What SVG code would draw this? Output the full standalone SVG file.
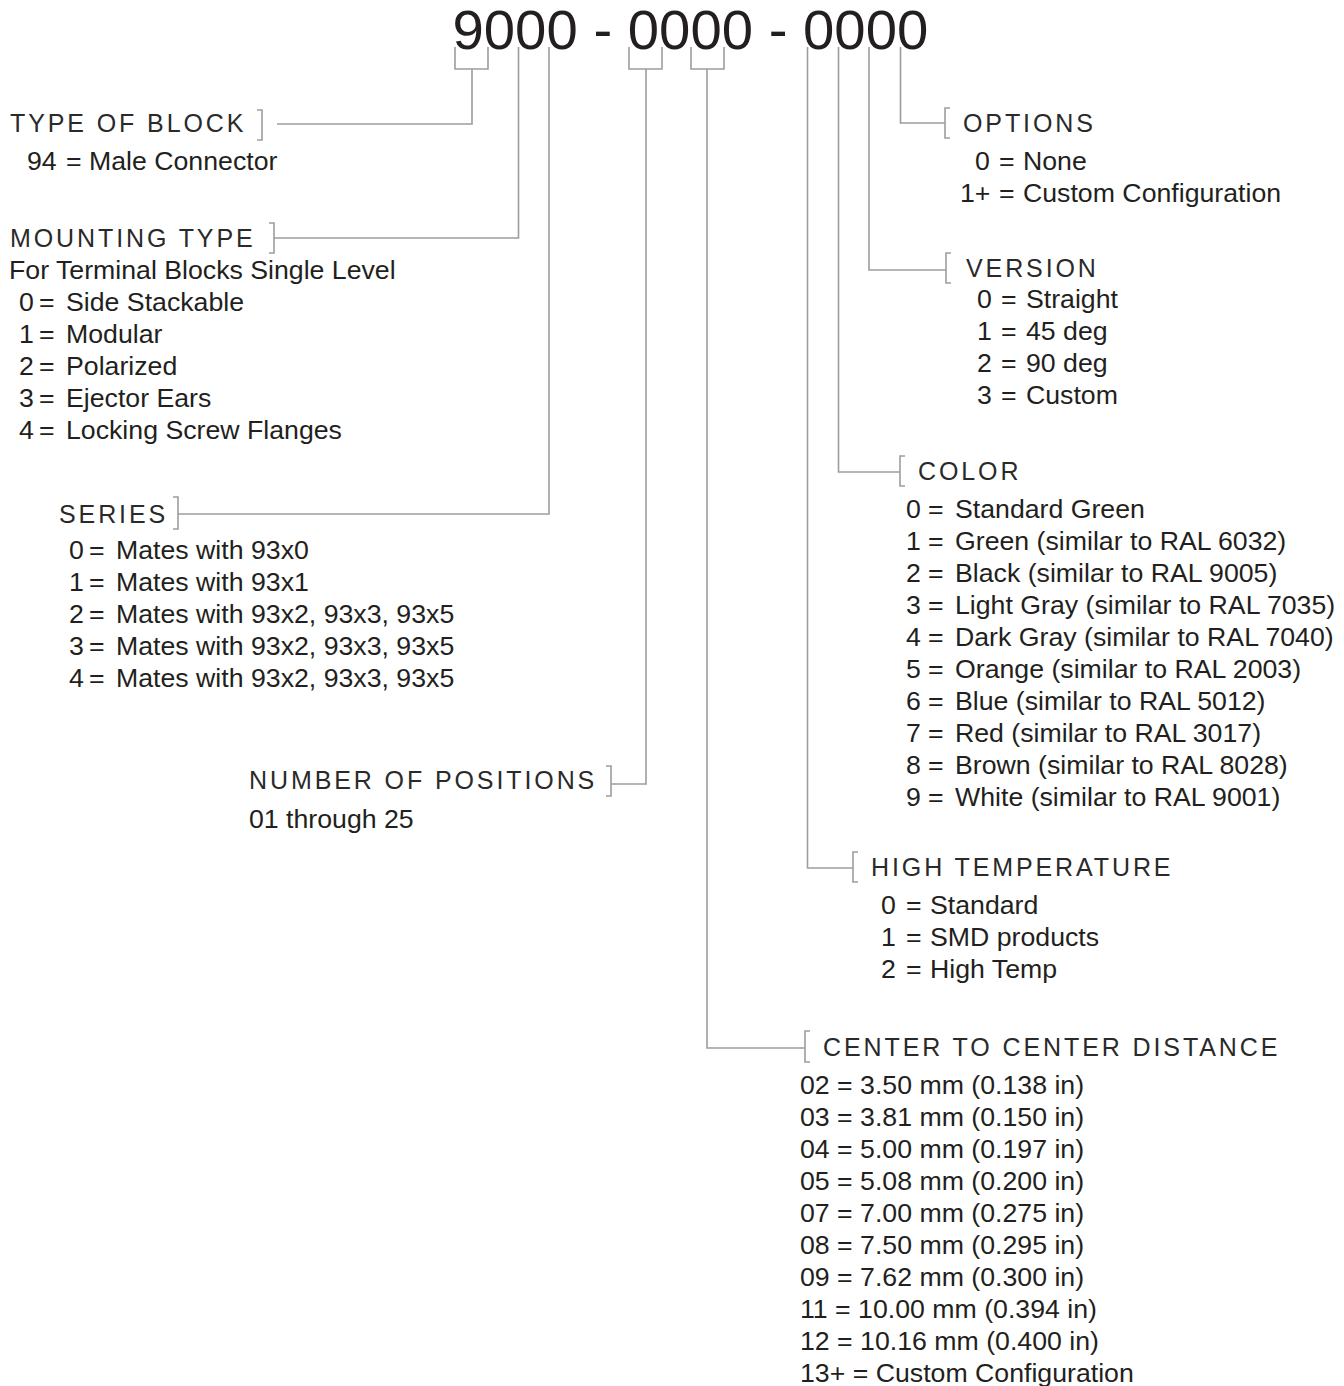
<svg xmlns="http://www.w3.org/2000/svg" width="1344" height="1386" viewBox="0 0 1344 1386">
<style>
  text { font-family: "Liberation Sans", Arial, sans-serif; fill: #231f20; }
  .title { font-size: 56.3px; }
  .hdr { font-size: 25px; letter-spacing: 2.9px; fill: #2a2a2a; }
  .body { font-size: 26.7px; }
  .ln { fill: none; stroke: #9d9d9d; stroke-width: 1.6; }
</style>
<rect width="1344" height="1386" fill="#ffffff"/>

<g id="part-number">
  <text class="title" x="452.5" y="48.5">9000 - 0000 - 0000</text>
</g>

<g id="connectors">
  <path class="ln" d="M455,47 V69 H488 V47"/>
  <path class="ln" d="M472,69 V124 H277"/>
  <path class="ln" d="M518.5,47 V238 H274"/>
  <path class="ln" d="M549,47 V514 H178"/>
  <path class="ln" d="M629,47 V69 H662 V47"/>
  <path class="ln" d="M646,69 V784 H611"/>
  <path class="ln" d="M691,47 V69 H724 V47"/>
  <path class="ln" d="M707,69 V1048 H805"/>
  <path class="ln" d="M807.5,47 V868 H853"/>
  <path class="ln" d="M838.5,47 V472 H900"/>
  <path class="ln" d="M869,47 V270 H946"/>
  <path class="ln" d="M900.5,47 V123 H945"/>
</g>

<g id="type-of-block">
  <text class="hdr" x="10" y="132">TYPE OF BLOCK</text>
  <path class="ln" d="M257,110 H262 V140 H257"/>
  <text class="body" x="27" y="170">94</text>
  <text class="body" x="66" y="170">= Male Connector</text>
</g>

<g id="mounting-type">
  <text class="hdr" x="10" y="247">MOUNTING TYPE</text>
  <path class="ln" d="M269,223 H274 V253 H269"/>
  <text class="body" x="9" y="279">For Terminal Blocks Single Level</text>
  <text class="body" y="311"><tspan x="19">0</tspan><tspan x="39">=</tspan><tspan x="66">Side Stackable</tspan></text>
  <text class="body" y="343"><tspan x="19">1</tspan><tspan x="39">=</tspan><tspan x="66">Modular</tspan></text>
  <text class="body" y="375"><tspan x="19">2</tspan><tspan x="39">=</tspan><tspan x="66">Polarized</tspan></text>
  <text class="body" y="407"><tspan x="19">3</tspan><tspan x="39">=</tspan><tspan x="66">Ejector Ears</tspan></text>
  <text class="body" y="439"><tspan x="19">4</tspan><tspan x="39">=</tspan><tspan x="66">Locking Screw Flanges</tspan></text>
</g>

<g id="series">
  <text class="hdr" x="59" y="523">SERIES</text>
  <path class="ln" d="M173,497 H178 V529 H173"/>
  <text class="body" y="559"><tspan x="69">0</tspan><tspan x="89">=</tspan><tspan x="116">Mates with 93x0</tspan></text>
  <text class="body" y="591"><tspan x="69">1</tspan><tspan x="89">=</tspan><tspan x="116">Mates with 93x1</tspan></text>
  <text class="body" y="623"><tspan x="69">2</tspan><tspan x="89">=</tspan><tspan x="116">Mates with 93x2, 93x3, 93x5</tspan></text>
  <text class="body" y="655"><tspan x="69">3</tspan><tspan x="89">=</tspan><tspan x="116">Mates with 93x2, 93x3, 93x5</tspan></text>
  <text class="body" y="687"><tspan x="69">4</tspan><tspan x="89">=</tspan><tspan x="116">Mates with 93x2, 93x3, 93x5</tspan></text>
</g>

<g id="number-of-positions">
  <text class="hdr" x="249" y="789">NUMBER OF POSITIONS</text>
  <path class="ln" d="M606,766 H611 V796 H606"/>
  <text class="body" x="249" y="828">01 through 25</text>
</g>

<g id="options">
  <path class="ln" d="M950,108 H945 V138 H950"/>
  <text class="hdr" x="963" y="132">OPTIONS</text>
  <text class="body" y="170"><tspan x="975">0</tspan><tspan x="999">=</tspan><tspan x="1023">None</tspan></text>
  <text class="body" y="202"><tspan x="960">1+</tspan><tspan x="999">=</tspan><tspan x="1023">Custom Configuration</tspan></text>
</g>

<g id="version">
  <path class="ln" d="M951,253 H946 V283 H951"/>
  <text class="hdr" x="966" y="277">VERSION</text>
  <text class="body" y="308"><tspan x="977">0</tspan><tspan x="1001">=</tspan><tspan x="1026">Straight</tspan></text>
  <text class="body" y="340"><tspan x="977">1</tspan><tspan x="1001">=</tspan><tspan x="1026">45 deg</tspan></text>
  <text class="body" y="372"><tspan x="977">2</tspan><tspan x="1001">=</tspan><tspan x="1026">90 deg</tspan></text>
  <text class="body" y="404"><tspan x="977">3</tspan><tspan x="1001">=</tspan><tspan x="1026">Custom</tspan></text>
</g>

<g id="color">
  <path class="ln" d="M905,456 H900 V486 H905"/>
  <text class="hdr" x="918" y="480">COLOR</text>
  <text class="body" y="518"><tspan x="906">0</tspan><tspan x="928">=</tspan><tspan x="955">Standard Green</tspan></text>
  <text class="body" y="550"><tspan x="906">1</tspan><tspan x="928">=</tspan><tspan x="955">Green (similar to RAL 6032)</tspan></text>
  <text class="body" y="582"><tspan x="906">2</tspan><tspan x="928">=</tspan><tspan x="955">Black (similar to RAL 9005)</tspan></text>
  <text class="body" y="614"><tspan x="906">3</tspan><tspan x="928">=</tspan><tspan x="955">Light Gray (similar to RAL 7035)</tspan></text>
  <text class="body" y="646"><tspan x="906">4</tspan><tspan x="928">=</tspan><tspan x="955">Dark Gray (similar to RAL 7040)</tspan></text>
  <text class="body" y="678"><tspan x="906">5</tspan><tspan x="928">=</tspan><tspan x="955">Orange (similar to RAL 2003)</tspan></text>
  <text class="body" y="710"><tspan x="906">6</tspan><tspan x="928">=</tspan><tspan x="955">Blue (similar to RAL 5012)</tspan></text>
  <text class="body" y="742"><tspan x="906">7</tspan><tspan x="928">=</tspan><tspan x="955">Red (similar to RAL 3017)</tspan></text>
  <text class="body" y="774"><tspan x="906">8</tspan><tspan x="928">=</tspan><tspan x="955">Brown (similar to RAL 8028)</tspan></text>
  <text class="body" y="806"><tspan x="906">9</tspan><tspan x="928">=</tspan><tspan x="955">White (similar to RAL 9001)</tspan></text>
</g>

<g id="high-temperature">
  <path class="ln" d="M858,852 H853 V882 H858"/>
  <text class="hdr" x="871" y="876">HIGH TEMPERATURE</text>
  <text class="body" y="914"><tspan x="881">0</tspan><tspan x="906">=</tspan><tspan x="930">Standard</tspan></text>
  <text class="body" y="946"><tspan x="881">1</tspan><tspan x="906">=</tspan><tspan x="930">SMD products</tspan></text>
  <text class="body" y="978"><tspan x="881">2</tspan><tspan x="906">=</tspan><tspan x="930">High Temp</tspan></text>
</g>

<g id="center-distance">
  <path class="ln" d="M810,1031 H805 V1062 H810"/>
  <text class="hdr" x="823" y="1056">CENTER TO CENTER DISTANCE</text>
  <text class="body" x="800" y="1094">02 = 3.50 mm (0.138 in)</text>
  <text class="body" x="800" y="1126">03 = 3.81 mm (0.150 in)</text>
  <text class="body" x="800" y="1158">04 = 5.00 mm (0.197 in)</text>
  <text class="body" x="800" y="1190">05 = 5.08 mm (0.200 in)</text>
  <text class="body" x="800" y="1222">07 = 7.00 mm (0.275 in)</text>
  <text class="body" x="800" y="1254">08 = 7.50 mm (0.295 in)</text>
  <text class="body" x="800" y="1286">09 = 7.62 mm (0.300 in)</text>
  <text class="body" x="800" y="1318">11 = 10.00 mm (0.394 in)</text>
  <text class="body" x="800" y="1350">12 = 10.16 mm (0.400 in)</text>
  <text class="body" x="800" y="1382">13+ = Custom Configuration</text>
</g>
</svg>
